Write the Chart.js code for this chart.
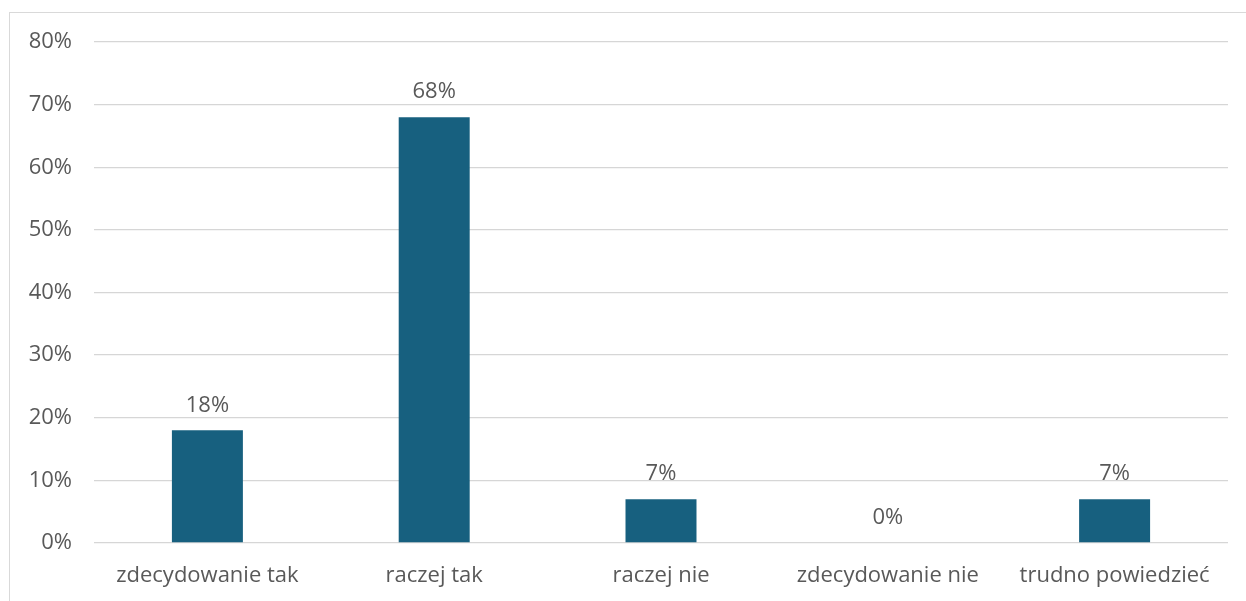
<!DOCTYPE html>
<html>
<head>
<meta charset="utf-8">
<script src="https://cdn.jsdelivr.net/npm/chart.js@4.4.0/dist/chart.umd.min.js"></script>
<style>
  html, body { margin: 0; padding: 0; background: #fff; width: 1246px; height: 601px; overflow: hidden; }
  #wrap { position: absolute; left: 9px; top: 12px; width: 1237px; height: 589px; border-left: 1px solid #d9d9d9; border-top: 1px solid #d9d9d9; box-sizing: border-box; }
  canvas { display: block; }
</style>
</head>
<body>
<div id="wrap"><canvas id="c"></canvas></div>
<script>
const categories = ["zdecydowanie tak", "raczej tak", "raczej nie", "zdecydowanie nie", "trudno powiedzieć"];
const values = [18, 68, 7, 0, 7];
const tickValues = [0, 10, 20, 30, 40, 50, 60, 70, 80];

const FONT = "'Open Sans', sans-serif";
const TEXT = "#595959";
const SIZE = 22;

const valueLabels = {
  id: 'valueLabels',
  afterDatasetsDraw(chart) {
    const ctx = chart.ctx;
    const meta = chart.getDatasetMeta(0);
    ctx.save();
    ctx.font = SIZE + "px " + FONT;
    ctx.fillStyle = TEXT;
    ctx.textAlign = 'center';
    ctx.textBaseline = 'middle';
    meta.data.forEach((bar, i) => {
      ctx.fillText(values[i] + '%', bar.x, bar.y - 25);
    });
    ctx.restore();
  }
};

new Chart(document.getElementById('c'), {
  type: 'bar',
  data: {
    labels: categories,
    datasets: [{
      data: values,
      backgroundColor: '#17607F',
      borderWidth: 0,
      barPercentage: 0.313,
      categoryPercentage: 1.0
    }]
  },
  options: {
    responsive: true,
    maintainAspectRatio: false,
    animation: false,
    layout: { padding: { left: 0, right: 18, top: 29, bottom: 0 } },
    plugins: { legend: { display: false }, tooltip: { enabled: false } },
    scales: {
      x: {
        grid: { display: false, drawTicks: false },
        border: { display: false },
        ticks: { color: TEXT, font: { family: FONT, size: SIZE }, padding: 20, maxRotation: 0 },
        afterFit(scale) { scale.height = 58; scale.paddingLeft = 0; scale.paddingRight = 0; }
      },
      y: {
        min: 0, max: 80,
        afterBuildTicks(scale) { scale.ticks = tickValues.map(v => ({ value: v })); },
        grid: { color: '#d6d6d6', lineWidth: 1.3, drawTicks: false },
        border: { display: false },
        ticks: { color: TEXT, font: { family: FONT, size: SIZE }, padding: 22, callback: v => v + '%' },
        afterFit(scale) { scale.width = 84; scale.paddingTop = 0; scale.paddingBottom = 0; }
      }
    }
  },
  plugins: [valueLabels]
});
</script>
</body>
</html>
